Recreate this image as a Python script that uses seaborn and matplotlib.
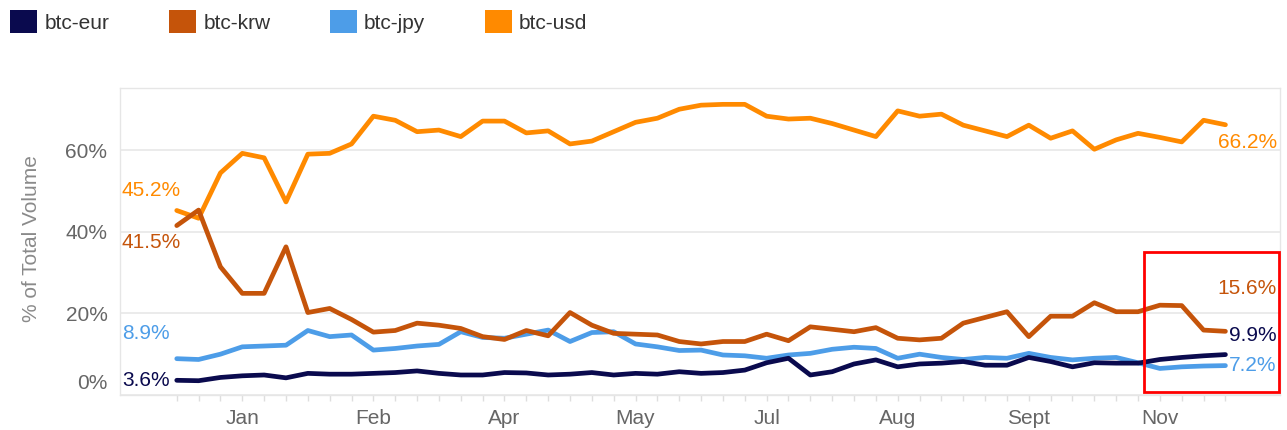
import numpy as np
import pandas as pd
import matplotlib
matplotlib.use("Agg")
import matplotlib.pyplot as plt
import matplotlib.patches as mpatches
from matplotlib.transforms import ScaledTranslation
import seaborn as sns

# Weekly share of total BTC trading volume by quote currency (%)
btc_usd = [45.2, 43.3, 54.4, 59.2, 58.1, 47.3, 59.0, 59.2, 61.5, 68.3,
           67.3, 64.5, 64.9, 63.3, 67.1, 67.1, 64.2, 64.7, 61.5, 62.2,
           64.5, 66.8, 67.8, 70.0, 71.0, 71.2, 71.2, 68.3, 67.6, 67.8,
           66.5, 64.9, 63.3, 69.6, 68.3, 68.8, 66.1, 64.7, 63.3, 66.1,
           62.9, 64.7, 60.2, 62.5, 64.1, 63.1, 62.0, 67.3, 66.2]
btc_krw = [41.5, 45.3, 31.4, 24.9, 24.9, 36.3, 20.2, 21.2, 18.5, 15.4,
           15.8, 17.6, 17.1, 16.3, 14.3, 13.6, 15.8, 14.5, 20.2, 17.1,
           15.1, 14.9, 14.7, 13.1, 12.5, 13.1, 13.1, 14.9, 13.3, 16.7,
           16.1, 15.5, 16.5, 13.9, 13.5, 13.9, 17.6, 19.0, 20.4, 14.3,
           19.3, 19.3, 22.6, 20.4, 20.4, 22.0, 21.9, 15.9, 15.6]
btc_jpy = [8.9, 8.7, 10.0, 11.8, 12.0, 12.2, 15.8, 14.3, 14.7, 11.0,
           11.4, 12.0, 12.4, 15.5, 14.1, 13.9, 14.9, 15.9, 13.1, 15.3,
           15.5, 12.5, 11.8, 10.9, 11.0, 9.8, 9.6, 9.0, 9.8, 10.2,
           11.2, 11.7, 11.4, 9.0, 10.0, 9.2, 8.7, 9.2, 9.0, 10.2,
           9.2, 8.6, 9.0, 9.2, 7.9, 6.5, 6.9, 7.1, 7.2]
btc_eur = [3.6, 3.5, 4.3, 4.7, 4.9, 4.2, 5.3, 5.1, 5.1, 5.3,
           5.5, 5.9, 5.3, 4.9, 4.9, 5.5, 5.4, 4.9, 5.1, 5.5,
           4.9, 5.3, 5.1, 5.7, 5.3, 5.5, 6.1, 7.9, 9.0, 4.9,
           5.7, 7.6, 8.6, 6.9, 7.6, 7.8, 8.2, 7.3, 7.3, 9.2,
           8.2, 6.9, 7.9, 7.8, 7.8, 8.7, 9.2, 9.6, 9.9]

month_labels = ["Jan", "Feb", "Apr", "May", "Jul", "Aug", "Sept", "Nov"]
pairs = ["btc-eur", "btc-krw", "btc-jpy", "btc-usd"]
colors = {"btc-eur": "#0a0a4e", "btc-krw": "#c5540a",
          "btc-jpy": "#4d9de8", "btc-usd": "#ff8a00"}

series = {"btc-eur": btc_eur, "btc-krw": btc_krw,
          "btc-jpy": btc_jpy, "btc-usd": btc_usd}
n_weeks = len(btc_usd)
df = pd.concat(
    [pd.DataFrame({"week": np.arange(n_weeks), "share": vals, "pair": name})
     for name, vals in series.items()],
    ignore_index=True,
)

sns.set_theme(style="white")
plt.rcParams["font.family"] = ["Liberation Sans", "DejaVu Sans"]

fig = plt.figure(figsize=(12.87, 4.30), dpi=100)
ax = fig.add_axes([0.0932, 0.0814, 0.9014, 0.7139])

# draw usd first so the smaller pairs sit above it
draw_order = ["btc-usd", "btc-jpy", "btc-krw", "btc-eur"]
for z, name in enumerate(draw_order):
    sns.lineplot(data=df[df["pair"] == name], x="week", y="share",
                 color=colors[name], linewidth=3.4, ax=ax,
                 legend=False, zorder=3 + z)

ax.set_xlim(-2.6, 50.5)
ax.set_ylim(0, 75.2)

# axes styling
for sp in ax.spines.values():
    sp.set_color("#e6e6e6")
    sp.set_linewidth(1)
ax.set_yticks([0, 20, 40, 60])
ax.set_yticklabels(["0%", "20%", "40%", "60%"])
ax.grid(axis="y", color="#e8e8e8", linewidth=1.2)
ax.grid(axis="x", visible=False)
ax.tick_params(axis="y", length=7, width=1, color="#e0e0e0", pad=2,
               labelsize=15, labelcolor="#666666")
ax.set_xticks(np.arange(3, n_weeks, 6))
ax.set_xticklabels(month_labels)
ax.set_xticks(np.arange(n_weeks), minor=True)
ax.tick_params(axis="x", which="both", length=4, width=1, color="#dedede",
               bottom=True, labelsize=15, labelcolor="#666666", pad=6)
ax.set_xlabel("")
ax.set_ylabel("% of Total Volume", fontsize=15, color="#8a8a8a")
ax.yaxis.set_label_coords(-0.068, 0.51)

# lift the 0% label off the bottom edge
zero_lbl = ax.get_yticklabels()[0]
zero_lbl.set_transform(zero_lbl.get_transform()
                       + ScaledTranslation(0, 0.13, fig.dpi_scale_trans))

# start / end value labels
start_offsets = {"btc-usd": 14.5, "btc-krw": -12.5, "btc-jpy": 18, "btc-eur": 0}
end_offsets = {"btc-usd": -12.5, "btc-krw": 31, "btc-jpy": 0, "btc-eur": 14}
for name, vals in series.items():
    ax.annotate(f"{vals[0]:.1f}%", xy=(0, vals[0]), xytext=(-39.5, start_offsets[name]),
                textcoords="offset points", ha="left", va="center",
                fontsize=15, color=colors[name], zorder=10)
    ax.annotate(f"{vals[-1]:.1f}%", xy=(n_weeks - 1, vals[-1]),
                xytext=(37, end_offsets[name]), textcoords="offset points",
                ha="right", va="center", fontsize=15, color=colors[name],
                zorder=10, annotation_clip=False)

# highlight box around the latest weeks
ax.add_patch(mpatches.Rectangle((44.25, 0.7), 6.18, 34.3, fill=False,
                                edgecolor="#ff0000", linewidth=2,
                                clip_on=False, zorder=12))

# legend with square swatches along the top
handles = [mpatches.Patch(facecolor=colors[p], edgecolor="none", label=p)
           for p in pairs]
fig.legend(handles=handles, loc="upper left", bbox_to_anchor=(0.008, 0.976),
           ncol=4, frameon=False, fontsize=15, handlelength=1.3,
           handleheight=1.3, handletextpad=0.35, columnspacing=2.85,
           borderpad=0, borderaxespad=0, labelcolor="#333333")

fig.savefig("out.png", dpi=100)
